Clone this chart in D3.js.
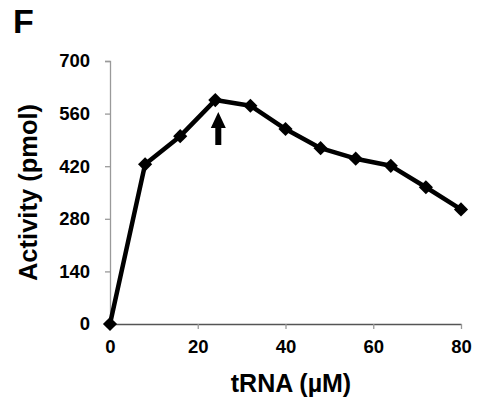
<!DOCTYPE html>
<html>
<head>
<meta charset="utf-8">
<script src="https://cdn.jsdelivr.net/npm/d3@7"></script>
<style>
  html, body { margin: 0; padding: 0; background: #fff; }
  svg { display: block; font-family: "Liberation Sans", Arial, sans-serif; }
</style>
</head>
<body>
<svg id="chart" width="477" height="402"></svg>
<script>
// tRNA concentration (µM) and measured activity (pmol)
const trnaConc = [0, 8, 16, 24, 32, 40, 48, 56, 64, 72, 80];
const activity = [0, 425, 500, 596, 581, 519, 468, 440, 421, 364, 305];
const xTicks = [0, 20, 40, 60, 80];
const yTicks = [0, 140, 280, 420, 560, 700];
const peakConc = 24;

const svg = d3.select("#chart");
const plot = { left: 110, right: 461, top: 61, bottom: 324 };

const x = d3.scaleLinear().domain([0, 80]).range([plot.left, plot.right]);
const y = d3.scaleLinear().domain([0, 700]).range([plot.bottom, plot.top]);

// panel letter
svg.append("text")
  .attr("x", 13).attr("y", 33)
  .attr("font-size", 34).attr("font-weight", "bold")
  .text("F");

// y axis
const yAxis = svg.append("g")
  .attr("transform", `translate(${plot.left},0)`)
  .call(d3.axisLeft(y).tickValues(yTicks).tickSize(5).tickPadding(15));
yAxis.select(".domain").attr("stroke", "#9a9a9a").attr("stroke-width", 1.3);
yAxis.selectAll(".tick line").attr("stroke", "#9a9a9a").attr("stroke-width", 1.3);
yAxis.selectAll(".tick text")
  .attr("font-size", 18.5).attr("font-weight", "bold").attr("fill", "#000")
  .attr("font-family", "Liberation Sans, Arial, sans-serif");

// x axis
const xAxis = svg.append("g")
  .attr("transform", `translate(0,${plot.bottom})`)
  .call(d3.axisBottom(x).tickValues(xTicks).tickSize(5).tickSizeOuter(0).tickPadding(11));
xAxis.select(".domain").attr("stroke", "#555").attr("stroke-width", 1.3);
xAxis.selectAll(".tick line").attr("stroke", "#9a9a9a").attr("stroke-width", 1.3);
xAxis.selectAll(".tick text")
  .attr("font-size", 18.5).attr("font-weight", "bold").attr("fill", "#000")
  .attr("font-family", "Liberation Sans, Arial, sans-serif");

// axis titles
svg.append("text")
  .attr("transform", `translate(37,${(plot.top + plot.bottom) / 2}) rotate(-90)`)
  .attr("text-anchor", "middle")
  .attr("font-size", 25.5).attr("font-weight", "bold")
  .text("Activity (pmol)");

svg.append("text")
  .attr("x", 291).attr("y", 392)
  .attr("text-anchor", "middle")
  .attr("font-size", 25).attr("font-weight", "bold")
  .text("tRNA (µM)");

// data line
const pts = trnaConc.map((c, i) => [c, activity[i]]);
svg.append("path")
  .datum(pts)
  .attr("fill", "none")
  .attr("stroke", "#000")
  .attr("stroke-width", 4.5)
  .attr("stroke-linejoin", "round")
  .attr("d", d3.line().x(d => x(d[0])).y(d => y(d[1])));

// diamond markers
svg.append("g").selectAll("path")
  .data(pts)
  .join("path")
  .attr("transform", d => `translate(${x(d[0])},${y(d[1])}) rotate(45)`)
  .attr("d", d3.symbol().type(d3.symbolSquare).size(100))
  .attr("fill", "#000");

// arrow marking the optimum
const ax = x(peakConc) + 3;
const tipY = y(activity[trnaConc.indexOf(peakConc)]) + 12;
svg.append("path")
  .attr("fill", "#000")
  .attr("d", `M${ax},${tipY} L${ax + 7.5},${tipY + 16} L${ax + 3},${tipY + 16} L${ax + 3},${tipY + 33} L${ax - 3},${tipY + 33} L${ax - 3},${tipY + 16} L${ax - 7.5},${tipY + 16} Z`);
</script>
</body>
</html>
